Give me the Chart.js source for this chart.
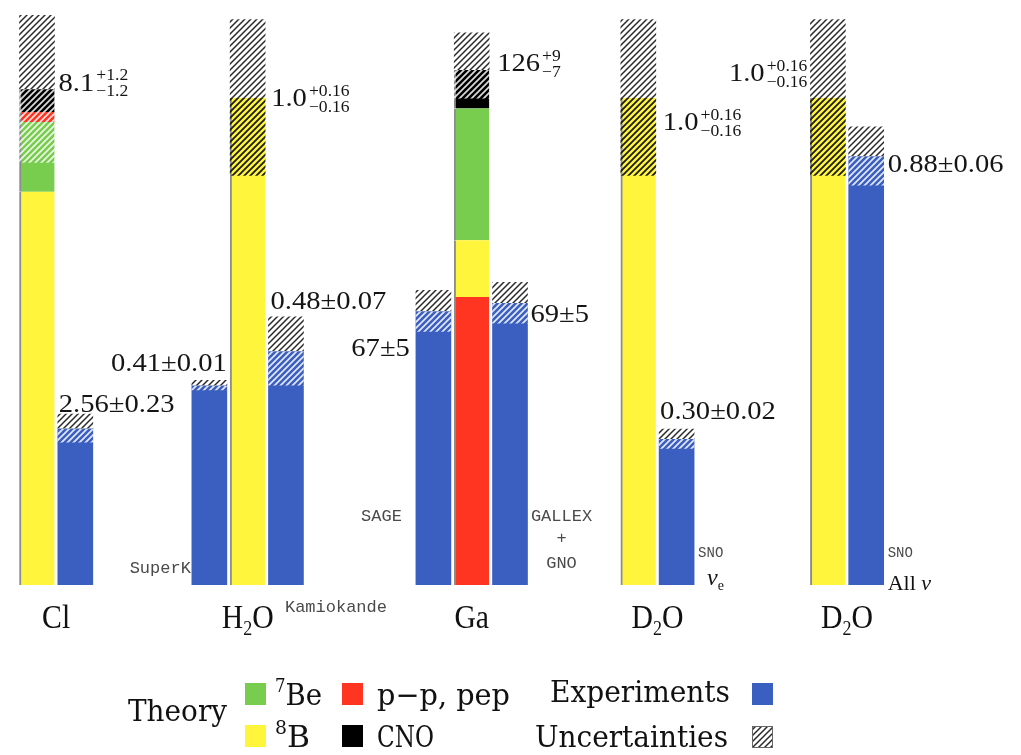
<!DOCTYPE html>
<html>
<head>
<meta charset="utf-8">
<title>Total rates: standard model vs. experiment</title>
<script src="https://cdn.jsdelivr.net/npm/chart.js@4.4.1/dist/chart.umd.min.js"></script>
<style>
  html, body { margin: 0; padding: 0; background: #ffffff; }
  #wrap { width: 1021px; height: 755px; }
</style>
</head>
<body>
<div id="wrap"><canvas id="rates" width="1021" height="755"></canvas></div>
<script>
// ---------------- data ----------------
// Target material of each detector family
const detectors = ['Cl', 'H₂O', 'Ga', 'D₂O', 'D₂O'];
// Axis each detector is measured on: SNU for radiochemical targets, ratio to the model for Cherenkov targets
const detectorAxis = ['snuCl', 'ratio', 'snuGa', 'ratio', 'ratio'];

// Standard solar model rate, split by neutrino source
const theoryPP  = [0.16, 0, 70.4, 0, 0];      // p-p and pep
const theoryB8  = [6.42, 1.0, 13.9, 1.0, 1.0];
const theoryBe7 = [1.14, 0, 32.2, 0, 0];
const theoryCNO = [0.38, 0, 9.5, 0, 0];
const theoryTotal   = [8.1, 1.0, 126, 1.0, 1.0];
const theoryErrUp   = [1.2, 0.16, 9, 0.16, 0.16];
const theoryErrDown = [1.2, 0.16, 7, 0.16, 0.16];
// Order of the sources from the bottom of each theory bar
const theoryStack = [['B8', 'Be7', 'PP', 'CNO'], ['B8'], ['PP', 'B8', 'Be7', 'CNO'], ['B8'], ['B8']];

// Measured rates
const expNames    = ['', 'SuperK', 'Kamiokande', 'SAGE', 'GALLEX + GNO', 'SNO', 'SNO'];
const expFlavour  = ['', '', '', '', '', 'νₑ', 'All ν'];
const expDetector = [0, 1, 1, 2, 2, 3, 4];
const expValue    = [2.56, 0.41, 0.48, 67, 69, 0.30, 0.88];
const expError    = [0.23, 0.01, 0.07, 5, 5, 0.02, 0.06];

// ---------------- layout & style ----------------
const BAR = 35;
const theoryX   = [0, 5.5, 11.35, 15.7, 20.65];   // bar slots, in bar-pitch units
const expOffset = [1, -1, 1, -1, 1, 1, 1];        // experiment bar beside its theory bar
const expX = expDetector.map((d, i) => theoryX[d] + expOffset[i]);
const axisMax = { snuCl: 9.55, ratio: 1.2, snuGa: 143 };
const theoryDigits = [[1, 1], [1, 2], [0, 0], [1, 2], [1, 2]];
const expDigits = [2, 2, 2, 0, 0, 2, 2];

const COLORS = { PP: '#ff3421', B8: '#fff53c', Be7: '#78cc4e', CNO: '#000000', exp: '#3b5fc0' };
const SOURCE_VALUES = { PP: theoryPP, B8: theoryB8, Be7: theoryBe7, CNO: theoryCNO };
const SOURCE_NAMES = { PP: 'p−p, pep', B8: '⁸B', Be7: '⁷Be', CNO: 'CNO' };

const canvas = document.getElementById('rates');
const ctx2d = canvas.getContext('2d');

// diagonal "/" hatching
function hatch(line, bg, lw) {
  const s = 6;
  const c = document.createElement('canvas');
  c.width = s; c.height = s;
  const g = c.getContext('2d');
  if (bg) { g.fillStyle = bg; g.fillRect(0, 0, s, s); }
  g.strokeStyle = line; g.lineWidth = lw;
  g.beginPath();
  g.moveTo(-2, s + 2); g.lineTo(s + 2, -2);
  g.moveTo(-2, 2); g.lineTo(2, -2);
  g.moveTo(s - 2, s + 2); g.lineTo(s + 2, s - 2);
  g.stroke();
  return ctx2d.createPattern(c, 'repeat');
}
const HATCH_OPEN  = hatch('#2a2a2a', '#ffffff', 1.5);   // uncertainty above the central value
const HATCH_LIGHT = hatch('rgba(255,255,255,0.85)', null, 1.7);
const HATCH_DARK  = hatch('#1a1a1a', null, 1.8);

// ---------------- datasets ----------------
const common = { barThickness: BAR, grouped: false, borderWidth: 0, borderSkipped: false };
const datasets = [];

Object.keys(axisMax).forEach(ax => {
  const dets = detectors.map((_, d) => d).filter(d => detectorAxis[d] === ax);

  // stacked model sources
  ['PP', 'B8', 'Be7', 'CNO'].forEach(k => {
    const data = [];
    dets.forEach(d => {
      let lo = 0;
      theoryStack[d].forEach(s => {
        const v = SOURCE_VALUES[s][d];
        if (s === k && v > 0) data.push({ x: theoryX[d], y: [lo, lo + v] });
        lo += v;
      });
    });
    if (data.length) datasets.push({
      ...common, label: SOURCE_NAMES[k], yAxisID: ax, data, order: 4,
      backgroundColor: COLORS[k], borderColor: '#8d8d8d',
      borderWidth: { left: 2, top: 0, right: 0, bottom: 0 }
    });
  });

  // model uncertainty, lower and upper parts
  datasets.push({
    ...common, label: 'model uncertainty (low)', yAxisID: ax, order: 2,
    data: dets.map(d => ({ x: theoryX[d], y: [theoryTotal[d] - theoryErrDown[d], theoryTotal[d]] })),
    backgroundColor: dets.map(d => {
      const st = theoryStack[d];
      return st[st.length - 1] === 'B8' ? HATCH_DARK : HATCH_LIGHT;
    })
  });
  datasets.push({
    ...common, label: 'model uncertainty (high)', yAxisID: ax, order: 1,
    data: dets.map(d => ({ x: theoryX[d], y: [theoryTotal[d], theoryTotal[d] + theoryErrUp[d]] })),
    backgroundColor: HATCH_OPEN
  });

  // experiments on this axis
  const ex = expDetector.map((d, i) => i).filter(i => detectorAxis[expDetector[i]] === ax);
  if (ex.length) {
    datasets.push({
      ...common, label: 'Experiments', yAxisID: ax, order: 4, backgroundColor: COLORS.exp,
      data: ex.map(i => ({ x: expX[i], y: [0, expValue[i]] }))
    });
    datasets.push({
      ...common, label: 'measurement uncertainty (low)', yAxisID: ax, order: 2, backgroundColor: HATCH_LIGHT,
      data: ex.map(i => ({ x: expX[i], y: [expValue[i] - expError[i], expValue[i]] }))
    });
    datasets.push({
      ...common, label: 'measurement uncertainty (high)', yAxisID: ax, order: 1, backgroundColor: HATCH_OPEN,
      data: ex.map(i => ({ x: expX[i], y: [expValue[i], expValue[i] + expError[i]] }))
    });
  }
});

// ---------------- text helpers ----------------
const SUPS = '⁰¹²³⁴⁵⁶⁷⁸⁹', SUBS = '₀₁₂₃₄₅₆₇₈₉';
function splitRuns(str) {
  const out = [];
  for (const ch of str) {
    let kind = 'n', t = ch, i;
    if ((i = SUPS.indexOf(ch)) >= 0) { kind = 'sup'; t = String(i); }
    else if ((i = SUBS.indexOf(ch)) >= 0) { kind = 'sub'; t = String(i); }
    else if (ch === 'ₑ') { kind = 'sub'; t = 'e'; }
    else if (ch === 'ν') { kind = 'greek'; }
    const last = out[out.length - 1];
    if (last && last.kind === kind) last.t += t; else out.push({ kind, t });
  }
  return out;
}
function runFont(kind, size, family) {
  const s = (kind === 'sup' || kind === 'sub') ? Math.round(size * 0.6) : size;
  return (kind === 'greek' ? 'italic ' : '') + s + 'px ' + family;
}
function runShift(kind, size) { return kind === 'sup' ? -0.42 * size : kind === 'sub' ? 0.2 * size : 0; }
function scriptWidth(ctx, str, size, family) {
  let w = 0;
  for (const r of splitRuns(str)) { ctx.font = runFont(r.kind, size, family); w += ctx.measureText(r.t).width; }
  return w;
}
// draws text with super/subscript runs; "width" stretches it to a set width
function drawScript(ctx, str, x, base, o) {
  const size = o.size, family = o.family, align = o.align || 'left';
  const natural = scriptWidth(ctx, str, size, family);
  const sx = o.width ? o.width / natural : (o.sx || 1);
  const w = natural * sx;
  const x0 = align === 'right' ? x - w : align === 'center' ? x - w / 2 : x;
  ctx.save();
  ctx.translate(x0, base);
  ctx.scale(sx, 1);
  ctx.fillStyle = o.color || '#111';
  ctx.textAlign = 'left';
  ctx.textBaseline = 'alphabetic';
  let cx = 0;
  for (const r of splitRuns(str)) {
    ctx.font = runFont(r.kind, size, family);
    ctx.fillText(r.t, cx, runShift(r.kind, size));
    cx += ctx.measureText(r.t).width;
  }
  ctx.restore();
}

const SERIF = '"Liberation Serif", "DejaVu Serif", serif';
const WIDE_SERIF = '"DejaVu Serif", "Liberation Serif", serif';
const MONO = '"Liberation Mono", "DejaVu Sans Mono", monospace';
const VALUE_SIZE = 26, SMALL_SIZE = 16, VALUE_SX = 1.1;

// value with an optional asymmetric error written as stacked super/subscripts
function drawValue(ctx, x, cy, align, main, up, down) {
  ctx.font = VALUE_SIZE + 'px ' + SERIF;
  const mw = ctx.measureText(main).width * VALUE_SX;
  let sw = 0;
  if (up) {
    ctx.font = SMALL_SIZE + 'px ' + SERIF;
    sw = 2 + Math.max(ctx.measureText(up).width, ctx.measureText(down).width) * VALUE_SX;
  }
  const x0 = align === 'right' ? x - mw - sw : x;
  const put = (txt, font, px, py) => {
    ctx.save();
    ctx.translate(px, py);
    ctx.scale(VALUE_SX, 1);
    ctx.font = font;
    ctx.textAlign = 'left';
    ctx.textBaseline = 'alphabetic';
    ctx.fillStyle = '#151515';
    ctx.fillText(txt, 0, 0);
    ctx.restore();
  };
  put(main, VALUE_SIZE + 'px ' + SERIF, x0, cy + 8.8);
  if (up) {
    put(up, SMALL_SIZE + 'px ' + SERIF, x0 + mw + 2, cy - 7 + 5.4);
    put(down, SMALL_SIZE + 'px ' + SERIF, x0 + mw + 2, cy + 9 + 5.4);
  }
}

// where each value label sits relative to its bar
const theoryLabel = [
  { edge: 'right', align: 'left', dx: 4, dy: -7 },
  { edge: 'right', align: 'left', dx: 6, dy: 0 },
  { edge: 'right', align: 'left', dx: 8, dy: -7 },
  { edge: 'right', align: 'left', dx: 7, dy: 24 },
  { edge: 'left', align: 'right', dx: -3, dy: -25 }
];
const expLabel = [
  { edge: 'left', align: 'left', dx: 1, at: 'top', dy: -11 },
  { edge: 'right', align: 'right', dx: 0, at: 'top', dy: -18 },
  { edge: 'left', align: 'left', dx: 2, at: 'top', dy: -17 },
  { edge: 'left', align: 'right', dx: -6, at: 'value', dy: 36 },
  { edge: 'right', align: 'left', dx: 3, at: 'value', dy: 10 },
  { edge: 'left', align: 'left', dx: 1, at: 'top', dy: -19 },
  { edge: 'right', align: 'left', dx: 4, at: 'value', dy: 7 }
];
const nameLabel = [
  null,
  { edge: 'left', dx: -1, align: 'right', base: [573], size: 17 },
  { edge: 'center', dx: -1, align: 'left', base: [612], size: 17 },
  { edge: 'left', dx: -14, align: 'right', base: [521], size: 17 },
  { edge: 'right', dx: 34, align: 'center', base: [521, 543, 568], size: 17 },
  { edge: 'right', dx: 4, align: 'left', base: [557], size: 14 },
  { edge: 'right', dx: 4, align: 'left', base: [557], size: 14 }
];
const flavourLabel = [null, null, null, null, null,
  { edge: 'right', dx: 13, base: 585, size: 24 },
  { edge: 'right', dx: 4, base: 590, size: 22 }];

const annotations = {
  id: 'annotations',
  afterDraw(chart) {
    const ctx = chart.ctx;
    const xs = chart.scales.x;
    const edgeX = (u, edge) => xs.getPixelForValue(u) + (edge === 'left' ? -BAR / 2 : edge === 'right' ? BAR / 2 : 0);
    ctx.save();

    // model totals
    detectors.forEach((name, d) => {
      const ys = chart.scales[detectorAxis[d]];
      const L = theoryLabel[d];
      const [dv, de] = theoryDigits[d];
      drawValue(ctx, edgeX(theoryX[d], L.edge) + L.dx, ys.getPixelForValue(theoryTotal[d]) + L.dy, L.align,
        theoryTotal[d].toFixed(dv), '+' + theoryErrUp[d].toFixed(de), '−' + theoryErrDown[d].toFixed(de));
    });

    // measurements
    expValue.forEach((v, i) => {
      const ys = chart.scales[detectorAxis[expDetector[i]]];
      const L = expLabel[i];
      const yv = L.at === 'top' ? v + expError[i] : v;
      drawValue(ctx, edgeX(expX[i], L.edge) + L.dx, ys.getPixelForValue(yv) + L.dy, L.align,
        v.toFixed(expDigits[i]) + '±' + expError[i].toFixed(expDigits[i]));

      const N = nameLabel[i];
      if (N) {
        expNames[i].split(' ').forEach((line, k) => {
          drawScript(ctx, line, edgeX(expX[i], N.edge) + N.dx, N.base[k],
            { size: N.size, family: MONO, align: N.align, color: '#4a4a4a' });
        });
      }
      const F = flavourLabel[i];
      if (F) drawScript(ctx, expFlavour[i], edgeX(expX[i], F.edge) + F.dx, F.base, { size: F.size, family: SERIF });
    });

    // detector names under each group
    const groupCentre = detectors.map((_, d) => {
      const xsU = [theoryX[d]].concat(expX.filter((_, i) => expDetector[i] === d));
      return (Math.min(...xsU) + Math.max(...xsU)) / 2;
    });
    detectors.forEach((name, d) => {
      drawScript(ctx, name, xs.getPixelForValue(groupCentre[d]), 628,
        { size: 33, family: SERIF, align: 'center', sx: 0.9 });
    });

    // legend
    const LEG = (w) => ({ size: 30, family: WIDE_SERIF, width: w });
    drawScript(ctx, 'Theory', 128, 721, LEG(99));
    const box = (x, y, fill) => { ctx.fillStyle = fill; ctx.fillRect(x, y, 21, 22); };
    box(245, 683, COLORS.Be7); drawScript(ctx, SOURCE_NAMES.Be7, 275, 705, LEG(47));
    box(342, 683, COLORS.PP);  drawScript(ctx, SOURCE_NAMES.PP, 377, 705, LEG(133));
    box(245, 725, COLORS.B8);  drawScript(ctx, SOURCE_NAMES.B8, 275, 747, LEG(35));
    box(342, 725, COLORS.CNO); drawScript(ctx, SOURCE_NAMES.CNO, 377, 747, LEG(57));
    drawScript(ctx, 'Experiments', 550, 702, LEG(180));
    box(752, 683, COLORS.exp);
    drawScript(ctx, 'Uncertainties', 535, 747, LEG(193));
    box(752, 726, HATCH_OPEN);
    ctx.strokeStyle = '#666'; ctx.lineWidth = 1; ctx.strokeRect(752.5, 726.5, 20, 21);

    ctx.restore();
  }
};

// bar-pitch scale: slot 0 sits at 37px, one slot is 38.3px wide
const PITCH = 38.3, FIRST = 37;
const scales = {
  x: { type: 'linear', display: false, offset: false, grid: { offset: false },
       min: -FIRST / PITCH, max: (1021 - FIRST) / PITCH },
  y: { display: false }
};
Object.keys(axisMax).forEach(ax => {
  scales[ax] = { type: 'linear', display: false, position: 'left', min: 0, max: axisMax[ax] };
});

new Chart(canvas, {
  type: 'bar',
  data: { datasets },
  options: {
    responsive: false,
    devicePixelRatio: 1,
    animation: false,
    events: [],
    layout: { padding: { left: 0, right: 0, top: 0, bottom: 170 } },
    scales,
    plugins: { legend: { display: false }, tooltip: { enabled: false } }
  },
  plugins: [annotations]
});
</script>
</body>
</html>
